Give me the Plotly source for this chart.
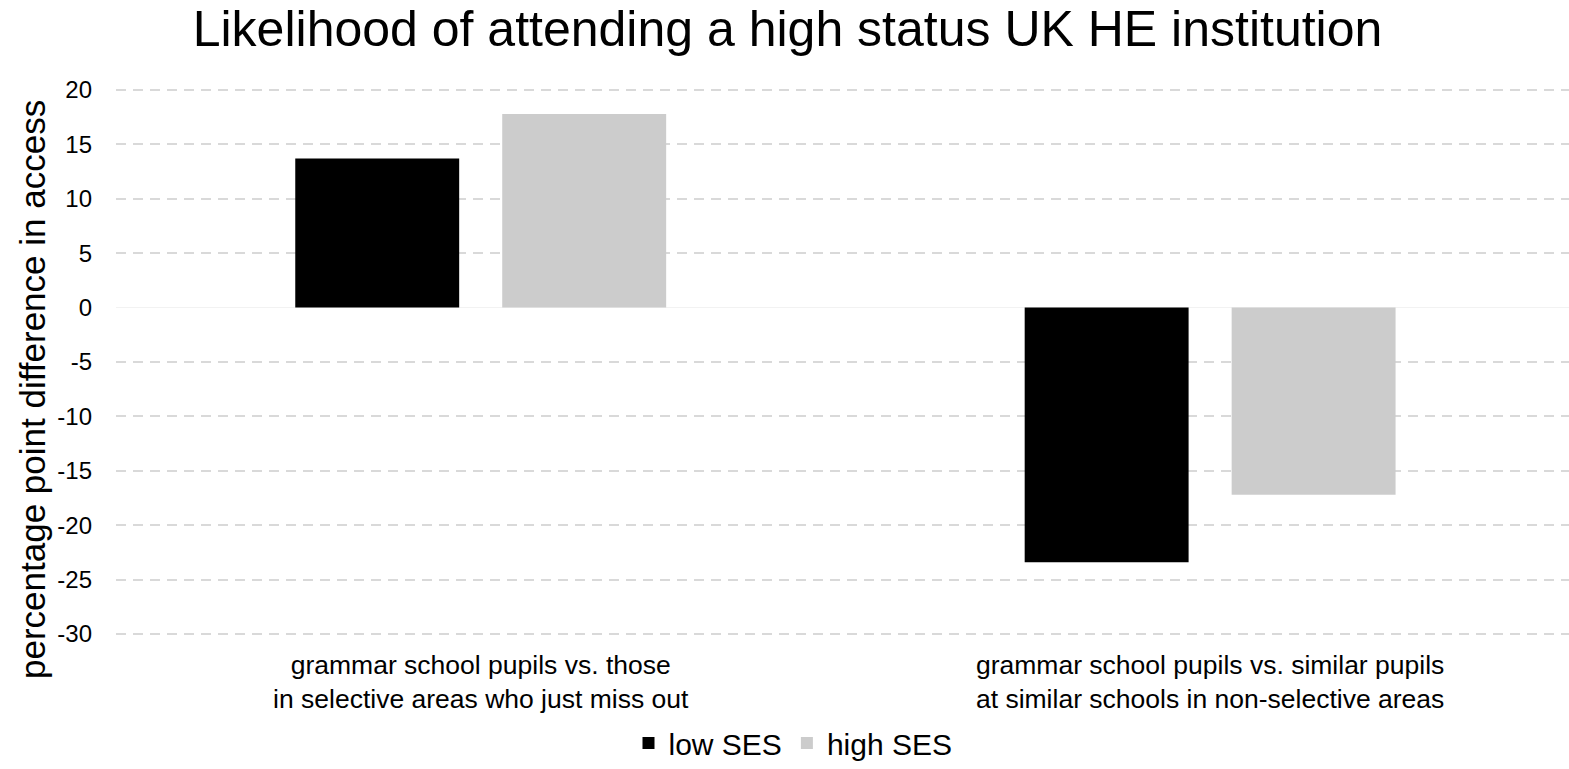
import plotly.graph_objects as go

categories = [
    "grammar school pupils vs. those<br>in selective areas who just miss out",
    "grammar school pupils vs. similar pupils<br>at similar schools in non-selective areas",
]
low_ses = [13.7, -23.4]
high_ses = [17.8, -17.2]
series_names = ["low SES", "high SES"]
y_ticks = [20, 15, 10, 5, 0, -5, -10, -15, -20, -25, -30]
y_title = "percentage point difference in access"

FONT = "Liberation Sans, Arial, sans-serif"

fig = go.Figure()
fig.add_trace(go.Bar(x=categories, y=low_ses, name=series_names[0],
                     marker=dict(color="#000000", line=dict(width=0))))
fig.add_trace(go.Bar(x=categories, y=high_ses, name=series_names[1],
                     marker=dict(color="#cccccc", line=dict(width=0))))

W, H = 1569, 769
L, T, B = 116, 89, 134
PH = H - T - B
fig.update_layout(
    width=W, height=H,
    margin=dict(l=L, r=0, t=T, b=B, autoexpand=False),
    paper_bgcolor="white", plot_bgcolor="white",
    barmode="group", bargap=0.4325, bargroupgap=0.208,
    title=dict(text="Likelihood of attending a high status UK HE institution",
               x=787.5 / W, xanchor="center", xref="container",
               y=1 - 28 / H, yanchor="middle", yref="container",
               font=dict(family=FONT, size=50, color="#000000")),
    legend=dict(orientation="h", x=793 / W, xanchor="center", xref="container",
                y=0, yanchor="bottom", yref="container",
                font=dict(family=FONT, size=30, color="#000000"),
                itemwidth=30, traceorder="normal", bgcolor="rgba(0,0,0,0)"),
    font=dict(family=FONT),
    annotations=[dict(text=y_title, textangle=-90, showarrow=False,
                      xref="paper", yref="paper",
                      x=(32 - L) / (W - L), y=(H - B - 390) / PH,
                      xanchor="center", yanchor="middle",
                      font=dict(family=FONT, size=35, color="#000000"))],
)
fig.update_xaxes(type="category", range=[-0.5, 1.492], showgrid=False, automargin=False,
                 showline=False, ticks="", ticklabelstandoff=11,
                 tickfont=dict(family=FONT, size=26.5, color="#000000"))
fig.update_yaxes(range=[-30.1, 20.1], tickvals=y_ticks, ticktext=[str(v) for v in y_ticks],
                 automargin=False,
                 showgrid=True, gridcolor="#d9d9d9", gridwidth=2, griddash="10px,7px",
                 zeroline=True, zerolinecolor="#f2f2f2", zerolinewidth=1,
                 showline=False, ticks="", ticklabelstandoff=23,
                 tickfont=dict(family=FONT, size=24, color="#000000"))

fig.write_html("out.html")
